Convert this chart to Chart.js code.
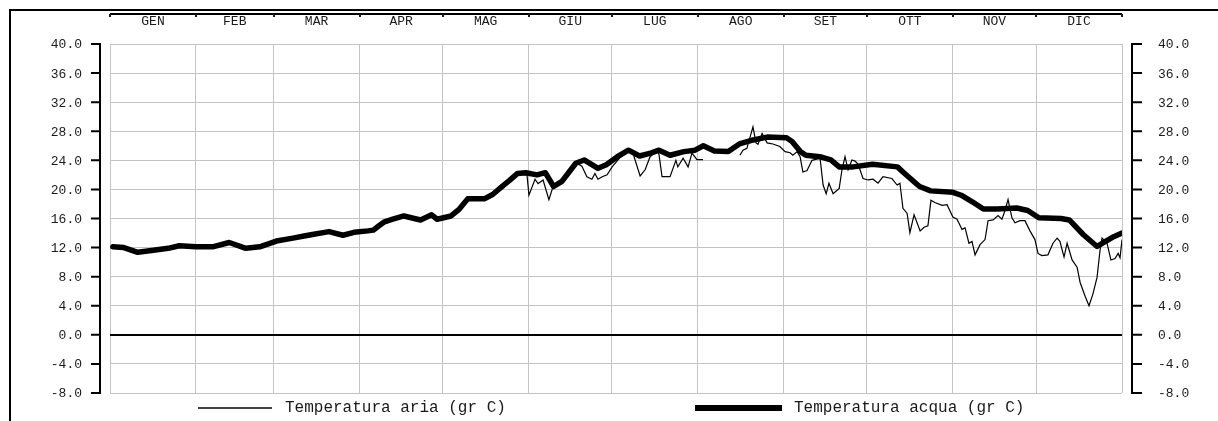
<!DOCTYPE html>
<html>
<head>
<meta charset="utf-8">
<script src="https://cdn.jsdelivr.net/npm/chart.js@4/dist/chart.umd.min.js"></script>
<style>
  html, body { margin: 0; padding: 0; background: #ffffff; }
  #wrap { width: 1218px; height: 421px; position: relative; }
</style>
</head>
<body>
<div id="wrap"><canvas id="c" width="1218" height="421"></canvas></div>
<script>
// ---- Data ----
const monthLabels = ['GEN','FEB','MAR','APR','MAG','GIU','LUG','AGO','SET','OTT','NOV','DIC'];
const monthStarts = [0,31,59,90,120,151,181,212,243,273,304,334,365];
const yTickValues = [40,36,32,28,24,20,16,12,8,4,0,-4,-8];
const seriesLabels = ['Temperatura aria (gr C)', 'Temperatura acqua (gr C)'];

const waterDays = [1,5,10,15,21,25,31,37,43,49,54,60,66,70,73,79,84,88,93,95,97,99,102,106,112,116,118,123,126,129,135,138,142,144,147,150,154,157,160,163,166,168,171,176,179,183,187,191,195,198,202,207,211,214,218,223,227,232,237,244,246,249,251,256,260,263,268,275,284,286,290,292,296,304,307,311,315,320,327,331,335,343,346,351,356,358,362,365];
const waterTemp = [12.1,12.0,11.35,11.6,11.9,12.25,12.1,12.1,12.7,11.9,12.1,12.9,13.3,13.6,13.8,14.2,13.7,14.1,14.3,14.4,15.0,15.55,15.9,16.35,15.8,16.5,15.9,16.35,17.3,18.7,18.7,19.3,20.6,21.2,22.2,22.3,22.0,22.3,20.4,21.1,22.6,23.6,24.05,22.9,23.4,24.5,25.4,24.6,25.0,25.4,24.7,25.2,25.4,26.0,25.3,25.2,26.25,26.8,27.2,27.1,26.6,25.2,24.7,24.5,24.05,23.1,23.1,23.45,23.1,22.4,21.05,20.4,19.8,19.6,19.2,18.3,17.3,17.3,17.45,17.1,16.1,16.0,15.8,13.8,12.15,12.6,13.5,14.0];

const airDays = [147.9,150.4,151.1,153.3,154.4,156.2,158.3,159.8,163.0,166.6,168.4,170.2,172.0,173.8,174.9,176.0,177.5,179.3,181.1,184.0,186.8,188.6,191.2,193.0,194.8,197.3,198.0,199.1,202.0,204.1,204.8,206.7,208.5,209.9,211.7,213.9,220,227.2,228.3,229.7,231.9,233.0,233.7,235.2,237.0,239.1,241.6,243.5,245.3,246.3,247.8,248.9,249.9,251.4,253.2,256.1,257.2,258.3,259.3,260.8,263.0,264.0,265.1,266.2,267.6,268.7,269.8,271.6,273.4,275.2,277.0,278.8,282.0,283.9,284.9,286.0,287.5,288.5,290.0,292.2,293.6,295.0,296.1,297.5,300.1,301.9,304.0,305.5,307.3,308.4,309.8,310.9,312.0,313.8,315.6,316.7,318.5,320.3,321.7,322.8,323.9,325.3,326.4,328.2,330.0,331.8,333.6,334.7,336.1,338.3,340.1,341.6,342.6,344.1,345.2,347.0,348.8,349.9,351.7,353.1,354.5,356.0,357.1,357.8,359.6,361.0,362.5,363.6,364.3,365.0];
const airTemp = [22.1,22.0,19.2,21.4,20.8,21.3,18.6,20.4,21.3,23.1,23.6,23.2,21.75,21.4,22.2,21.4,21.75,22.0,23.1,24.4,25.2,25.0,21.85,22.7,24.5,25.4,24.8,21.75,21.75,24.0,23.1,24.3,23.1,25.0,24.1,24.1,null,24.7,25.4,25.65,28.6,26.4,26.2,27.7,26.4,26.25,25.9,25.2,25.05,24.7,25.2,24.5,22.4,22.6,24.0,24.3,20.6,19.4,20.85,19.4,20.15,22.7,24.5,22.7,24.05,23.9,23.5,21.5,21.3,21.4,20.85,21.75,21.5,20.6,20.85,17.4,16.7,14.05,16.5,14.3,14.8,15.0,18.5,18.2,17.8,17.9,16.2,15.9,14.5,14.7,12.6,12.85,11.0,12.4,13.1,15.7,15.8,16.4,15.9,17.1,18.6,16.1,15.4,15.7,15.7,14.3,13.1,11.2,10.9,11.0,12.6,13.3,12.85,10.7,12.6,10.3,9.3,7.2,5.3,4.0,5.6,7.9,11.7,13.3,12.6,10.3,10.5,11.2,10.6,13.1];

const toPoints = (xs, ys) => xs.map((x, i) => ({ x: x, y: ys[i] }));

const FONT = "'Liberation Mono', 'Courier New', monospace";
const INK = '#1a1a1a';

const decorPlugin = {
  id: 'decor',
  afterDraw(chart) {
    const ctx = chart.ctx;
    const xs = chart.scales.x, ys = chart.scales.y;
    const area = chart.chartArea;
    ctx.save();
    ctx.strokeStyle = '#000';
    ctx.fillStyle = INK;
    ctx.lineCap = 'butt';

    // outer frame (top + left)
    ctx.lineWidth = 2;
    ctx.beginPath();
    ctx.moveTo(10, 421); ctx.lineTo(10, 10); ctx.lineTo(1218, 10);
    ctx.stroke();

    // top month axis
    const topY = 14;
    ctx.lineWidth = 2;
    ctx.beginPath();
    ctx.moveTo(xs.getPixelForValue(0), topY);
    ctx.lineTo(xs.getPixelForValue(365), topY);
    ctx.stroke();
    monthStarts.forEach(d => {
      const px = Math.round(xs.getPixelForValue(d));
      ctx.fillRect(px - 1, topY, 2, 3);
    });
    ctx.font = '13px ' + FONT;
    ctx.textAlign = 'center';
    ctx.textBaseline = 'middle';
    monthLabels.forEach((m, i) => {
      const mid = (monthStarts[i] + monthStarts[i + 1]) / 2;
      ctx.fillText(m, xs.getPixelForValue(mid), 22);
    });

    // left and right value axes
    const leftX = area.left - 10, rightX = area.right + 10;
    const yTop = ys.getPixelForValue(40), yBot = ys.getPixelForValue(-8);
    ctx.lineWidth = 2;
    ctx.beginPath();
    ctx.moveTo(leftX, yTop - 1); ctx.lineTo(leftX, yBot + 1);
    ctx.moveTo(rightX, yTop - 1); ctx.lineTo(rightX, yBot + 1);
    ctx.stroke();
    ctx.font = '13px ' + FONT;
    ctx.textBaseline = 'middle';
    yTickValues.forEach(v => {
      const py = ys.getPixelForValue(v);
      ctx.beginPath();
      ctx.moveTo(leftX - 9, py); ctx.lineTo(leftX + 1, py);
      ctx.moveTo(rightX - 1, py); ctx.lineTo(rightX + 10, py);
      ctx.stroke();
      const t = v.toFixed(1);
      ctx.textAlign = 'right';
      ctx.fillText(t, 82, py + 1);
      ctx.textAlign = 'left';
      ctx.fillText(t, 1158, py + 1);
    });

    // legend
    const ly = 408;
    ctx.font = '16px ' + FONT;
    ctx.textAlign = 'left';
    ctx.textBaseline = 'middle';
    ctx.lineWidth = 1.3;
    ctx.beginPath(); ctx.moveTo(198, ly); ctx.lineTo(272, ly); ctx.stroke();
    ctx.fillText(chart.data.datasets[1].label, 285, ly);
    ctx.lineWidth = 6;
    ctx.beginPath(); ctx.moveTo(695, ly); ctx.lineTo(782, ly); ctx.stroke();
    ctx.fillText(chart.data.datasets[0].label, 794, ly);
    ctx.restore();
  }
};

new Chart(document.getElementById('c'), {
  type: 'line',
  data: {
    datasets: [
      {
        label: seriesLabels[1],
        data: toPoints(waterDays, waterTemp),
        borderColor: '#000',
        borderWidth: 5.5,
        pointRadius: 0,
        tension: 0,
        borderJoinStyle: 'round',
        borderCapStyle: 'round',
        fill: false
      },
      {
        label: seriesLabels[0],
        data: toPoints(airDays, airTemp),
        borderColor: '#000',
        borderWidth: 1.2,
        pointRadius: 0,
        tension: 0,
        spanGaps: false,
        fill: false
      }
    ]
  },
  options: {
    responsive: false,
    animation: false,
    devicePixelRatio: 1,
    layout: { padding: { left: 110, right: 96, top: 44, bottom: 28 } },
    plugins: { legend: { display: false }, tooltip: { enabled: false } },
    scales: {
      x: {
        type: 'linear',
        min: 0,
        max: 365,
        position: 'bottom',
        afterBuildTicks: (s) => { s.ticks = monthStarts.map(v => ({ value: v })); },
        afterFit: (s) => { s.height = 0; },
        ticks: { display: false },
        grid: { color: '#c4c4c4', lineWidth: 1, drawTicks: false },
        border: { display: false }
      },
      y: {
        type: 'linear',
        min: -8,
        max: 40,
        afterBuildTicks: (s) => { s.ticks = yTickValues.map(v => ({ value: v })); },
        afterFit: (s) => { s.width = 0; },
        ticks: { display: false },
        grid: {
          color: (c) => (c.tick && c.tick.value === 0 ? '#000' : '#c4c4c4'),
          lineWidth: (c) => (c.tick && c.tick.value === 0 ? 2 : 1),
          drawTicks: false
        },
        border: { display: false }
      }
    }
  },
  plugins: [decorPlugin]
});
</script>
</body>
</html>
